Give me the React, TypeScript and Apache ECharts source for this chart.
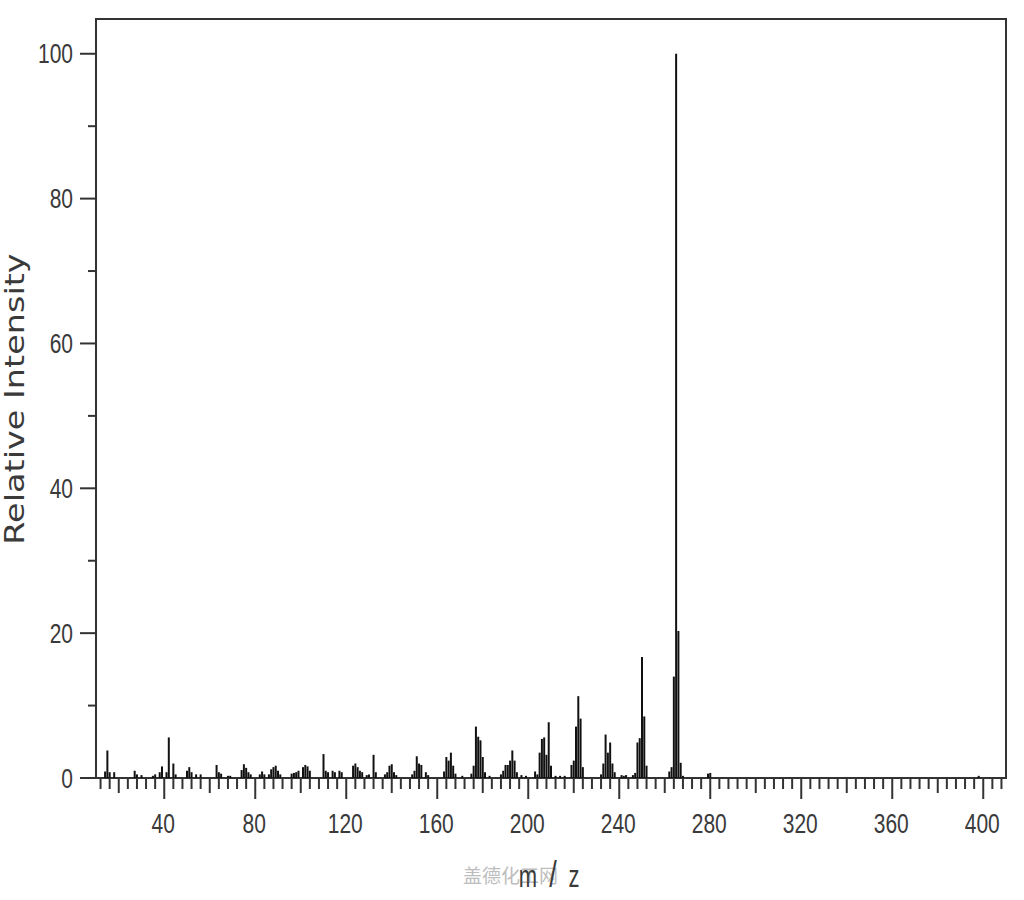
import React, { useEffect, useRef } from "react";
import * as echarts from "echarts";

// m/z values of the peaks
const MZ = [
  14, 15, 16, 18, 27, 28, 30, 35, 36, 38, 39, 41, 42, 44, 45, 50, 51, 52, 54, 56,
  63, 64, 65, 68, 69, 74, 75, 76, 77, 78, 82, 83, 84, 86, 87, 88, 89, 90, 91,
  96, 97, 98, 99, 101, 102, 103, 104, 110, 111, 112, 114, 115, 117, 118,
  123, 124, 125, 126, 127, 129, 130, 132, 133, 137, 138, 139, 140, 141, 142,
  149, 150, 151, 152, 153, 155, 156, 163, 164, 165, 166, 167, 168, 171,
  175, 176, 177, 178, 179, 180, 181, 183, 188, 189, 190, 191, 192, 193, 194, 195, 197, 199,
  203, 204, 205, 206, 207, 208, 209, 210, 212, 214, 216,
  219, 220, 221, 222, 223, 224, 232, 233, 234, 235, 236, 237, 238, 241, 242, 243,
  246, 247, 248, 249, 250, 251, 252, 262, 263, 264, 265, 266, 267, 268, 279, 280, 398,
];

// relative intensities (%)
const INTENSITY = [
  0.9, 3.8, 0.8, 0.8, 1.0, 0.5, 0.4, 0.3, 0.5, 0.8, 1.6, 0.8, 5.6, 2.0, 0.5, 1.0, 1.5, 0.8, 0.5, 0.5,
  1.8, 0.8, 0.6, 0.3, 0.3, 1.1, 1.9, 1.4, 0.8, 0.5, 0.5, 0.9, 0.5, 0.5, 1.2, 1.5, 1.7, 1.0, 0.5,
  0.6, 0.7, 0.8, 1.0, 1.5, 1.8, 1.6, 1.0, 3.3, 1.0, 0.8, 1.0, 0.8, 1.0, 0.8,
  1.7, 2.0, 1.5, 1.0, 0.8, 0.4, 0.5, 3.2, 0.8, 0.5, 0.8, 1.7, 1.9, 0.8, 0.4,
  0.5, 1.0, 3.0, 2.0, 1.8, 0.8, 0.4, 0.9, 2.9, 2.4, 3.5, 1.7, 0.6, 0.3,
  0.6, 1.7, 7.1, 5.7, 5.2, 2.9, 0.8, 0.3, 0.5, 1.0, 1.8, 1.8, 2.4, 3.8, 2.4, 0.8, 0.4, 0.3,
  0.9, 0.5, 3.5, 5.4, 5.6, 3.2, 7.7, 1.7, 0.3, 0.3, 0.3,
  1.8, 2.4, 7.1, 11.3, 8.2, 1.5, 0.5, 2.0, 6.0, 3.5, 4.9, 2.0, 0.8, 0.4, 0.3, 0.4,
  0.4, 0.7, 4.9, 5.5, 16.7, 8.5, 1.7, 0.9, 1.5, 14.0, 100, 20.3, 2.1, 0.3, 0.6, 0.7, 0.3,
];

const X_MIN = 10;
const X_MAX = 410;
const Y_MIN = 0;
const Y_MAX = 104.8;

const X_TICK_STEP = 4;
const X_TICK_FIRST = 12;
const X_TICK_LAST = 408;
const X_TICK_LABELS = ["40", "80", "120", "160", "200", "240", "280", "320", "360", "400"];

const Y_TICKS = [0, 10, 20, 30, 40, 50, 60, 70, 80, 90, 100];
const Y_TICK_LABELS = ["0", "20", "40", "60", "80", "100"];

const AXIS_COLOR = "#333";
const LABEL_COLOR = "#3a3a3a";
const LABEL_FONT = '21px "Liberation Sans", Arial, sans-serif';
const LABEL_SCALE_Y = 1.33;

function App() {
  const ref = useRef<HTMLDivElement>(null);

  useEffect(() => {
    if (!ref.current) return;
    const chart = echarts.init(ref.current, undefined, { renderer: "svg" });

    const xTicks: number[][] = [];
    for (let v = X_TICK_FIRST; v <= X_TICK_LAST; v += X_TICK_STEP) xTicks.push([v, 0]);

    const peaks = MZ.map((m, i) => [m, INTENSITY[i]]);

    const centerText = (text: string, font: string) => ({
      text,
      font,
      fill: LABEL_COLOR,
      align: "center",
      verticalAlign: "middle",
      textAlign: "center",
      textVerticalAlign: "middle",
    });

    const option: any = {
      animation: false,
      backgroundColor: "#fff",
      grid: {
        left: 96,
        right: 18,
        top: 19,
        bottom: 122,
        show: true,
        borderColor: AXIS_COLOR,
        borderWidth: 2,
        backgroundColor: "transparent",
      },
      xAxis: {
        type: "value",
        min: X_MIN,
        max: X_MAX,
        axisLine: { show: false },
        axisTick: { show: false },
        axisLabel: { show: false },
        splitLine: { show: false },
      },
      yAxis: {
        type: "value",
        min: Y_MIN,
        max: Y_MAX,
        axisLine: { show: false },
        axisTick: { show: false },
        axisLabel: { show: false },
        splitLine: { show: false },
      },
      graphic: [
        {
          type: "text",
          x: 15,
          y: 399,
          rotation: Math.PI / 2,
          scaleX: 1.24,
          style: centerText("Relative Intensity", '27px "DejaVu Sans", Verdana, sans-serif'),
        },
        {
          type: "text",
          x: 463,
          y: 874,
          style: {
            text: "盖德化工网",
            font: '19px "Noto Sans CJK SC", sans-serif',
            fill: "#bdbdbd",
            align: "left",
            verticalAlign: "middle",
            textAlign: "left",
            textVerticalAlign: "middle",
          },
        },
        {
          type: "text",
          x: 528,
          y: 876,
          scaleY: 1.45,
          style: centerText("m", '22px "Liberation Sans", Arial, sans-serif'),
        },
        {
          type: "text",
          x: 553,
          y: 874,
          scaleY: 1.35,
          style: centerText("/", '27px "Liberation Sans", Arial, sans-serif'),
        },
        {
          type: "text",
          x: 574,
          y: 876,
          scaleY: 1.45,
          style: centerText("z", '22px "Liberation Sans", Arial, sans-serif'),
        },
      ],
      series: [
        {
          type: "custom",
          name: "peaks",
          silent: true,
          clip: true,
          data: peaks,
          renderItem: (params: any, api: any) => {
            const m = api.value(0);
            const h = api.value(1);
            const p0 = api.coord([m, 0]);
            const p1 = api.coord([m, h]);
            return {
              type: "rect",
              shape: { x: p0[0] - 1, y: p1[1], width: 2, height: p0[1] - p1[1] },
              style: { fill: "#111" },
            };
          },
        },
        {
          type: "custom",
          name: "xticks",
          silent: true,
          clip: false,
          data: xTicks,
          renderItem: (params: any, api: any) => {
            const v = api.value(0);
            const p = api.coord([v, 0]);
            const label = X_TICK_LABELS.find((s) => Number(s) === v);
            const isMid = !label && v % 20 === 0;
            const len = label ? 21 : isMid ? 15 : 11;
            const children: any[] = [
              {
                type: "line",
                shape: { x1: p[0], y1: p[1], x2: p[0], y2: p[1] + len },
                style: { stroke: AXIS_COLOR, lineWidth: 2 },
              },
            ];
            if (label) {
              children.push({
                type: "text",
                x: p[0] - 1,
                y: p[1] + 45,
                scaleY: LABEL_SCALE_Y,
                style: centerText(label, LABEL_FONT),
              });
            }
            return { type: "group", children };
          },
        },
        {
          type: "custom",
          name: "yticks",
          silent: true,
          clip: false,
          data: Y_TICKS.map((v) => [X_MIN, v]),
          renderItem: (params: any, api: any) => {
            const v = api.value(1);
            const p = api.coord([X_MIN, v]);
            const label = Y_TICK_LABELS.find((s) => Number(s) === v);
            const len = label ? 16 : 8;
            const children: any[] = [
              {
                type: "line",
                shape: { x1: p[0] - len, y1: p[1], x2: p[0], y2: p[1] },
                style: { stroke: AXIS_COLOR, lineWidth: 2 },
              },
            ];
            if (label) {
              children.push({
                type: "text",
                x: p[0] - 23,
                y: p[1],
                scaleY: LABEL_SCALE_Y,
                style: {
                  text: label,
                  font: LABEL_FONT,
                  fill: LABEL_COLOR,
                  align: "right",
                  verticalAlign: "middle",
                  textAlign: "right",
                  textVerticalAlign: "middle",
                },
              });
            }
            return { type: "group", children };
          },
        },
      ],
    };

    chart.setOption(option);
    return () => chart.dispose();
  }, []);

  return (
    <div
      ref={ref}
      style={{ position: "fixed", left: 0, top: 0, width: 1024, height: 900, background: "#fff" }}
    />
  );
}

export default App;
